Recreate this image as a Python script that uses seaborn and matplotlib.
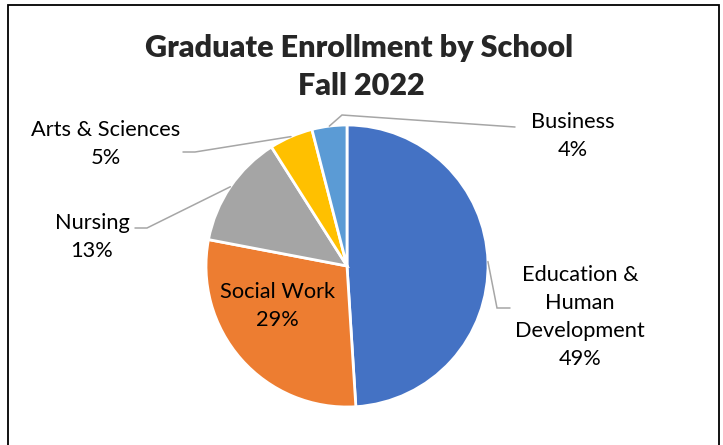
import matplotlib
matplotlib.use("Agg")
import matplotlib.pyplot as plt
import seaborn as sns
import numpy as np

schools = ["Education &\nHuman\nDevelopment", "Social Work", "Nursing", "Arts & Sciences", "Business"]
shares = [49, 29, 13, 5, 4]
colors = ["#4472C4", "#ED7D31", "#A5A5A5", "#FFC000", "#5B9BD5"]

title_lines = ["Graduate Enrollment by School", "Fall 2022"]

sns.set_theme(style="white")
plt.rcParams['font.family'] = ['Lato', 'DejaVu Sans']

W, H = 723, 445
CX, CY, R = 347, 266, 141   # pie centre and radius, in pixels


def px(x, y):
    # pixel position (from top-left) -> pie data units
    return (x - CX) / R, (CY - y) / R


# label centres and leader-line elbows/ends, in pixels
label_pos = [(580, 317), (277, 306), (92, 237), (106, 144), (573, 136)]
leaders = [
    [(497, 308), (510, 308)],
    None,
    [(147, 228), (135, 228)],
    [(195, 152), (183, 152)],
    [(342, 115), (515, 127)],
]

fig = plt.figure(figsize=(W / 100, H / 100), dpi=100)
ax = fig.add_axes([0, 0, 1, 1])
wedges, _ = ax.pie(shares, colors=colors, startangle=90, counterclock=False,
                   radius=1, wedgeprops=dict(edgecolor="white", linewidth=2))
ax.set_aspect("auto")
ax.set_xlim(-CX / R, (W - CX) / R)
ax.set_ylim(-(H - CY) / R, CY / R)
ax.axis("off")

for w, name, share, pos, lead in zip(wedges, schools, shares, label_pos, leaders):
    lx, ly = px(*pos)
    ax.text(lx, ly, f"{name}\n{share}%", ha="center", va="center",
            fontsize=15.7, color="#000000", linespacing=1.52)
    if lead is None:
        continue
    mid = np.deg2rad((w.theta1 + w.theta2) / 2)
    pts = [(np.cos(mid), np.sin(mid))] + [px(*p) for p in lead]
    xs, ys = zip(*pts)
    ax.plot(xs, ys, color="#A6A6A6", lw=1.1, solid_joinstyle="miter")

fig.text(359 / W, 1 - 48 / H, title_lines[0], ha="center", va="center",
         fontsize=22, fontweight="heavy")
fig.text(361 / W, 1 - 86 / H, title_lines[1], ha="center", va="center",
         fontsize=22, fontweight="heavy")

fig.add_artist(plt.Rectangle((8 / W, -0.02), 711 / W, 1.02 - 5 / H,
                             transform=fig.transFigure, fill=False,
                             edgecolor="black", lw=1.3))

fig.savefig("out.png", dpi=100)
